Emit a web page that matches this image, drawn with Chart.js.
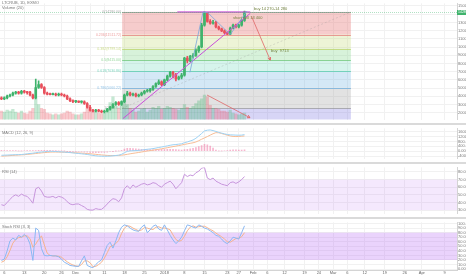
<!DOCTYPE html>
<html>
<head>
<meta charset="utf-8">
<title>LTCRUB 1D</title>
<script src="https://cdn.jsdelivr.net/npm/chart.js@4.4.1/dist/chart.umd.min.js"></script>
<style>
  body { margin: 0; background: #fff; }
  #wrap { position: relative; width: 466px; height: 275px; overflow: hidden; }
  #wrap canvas { position: absolute; left: 0; }
  .sep { position: absolute; left: 0; width: 466px; height: 2px; background: #dadada; }
</style>
</head>
<body>
<div id="wrap">
  <canvas id="main" width="466" height="123" style="top:0"></canvas>
  <div class="sep" style="top:123px"></div>
  <canvas id="macd" width="466" height="37" style="top:125px"></canvas>
  <div class="sep" style="top:162px"></div>
  <canvas id="rsi" width="466" height="53" style="top:164px"></canvas>
  <div class="sep" style="top:217px"></div>
  <canvas id="stoch" width="466" height="56" style="top:219px"></canvas>
</div>
<script>
// ---- data (daily candles, day 0 = first candle) ----
const opens  = [3815,3700,3815,4045,4160,4390,4505,4390,4620,4505,4505,4160,3815,5080,5425,5080,4390,4275,4218,4250,4160,4275,4160,4045,3700,3470,3355,3413,3300,3330,3125,2665,2320,2205,2320,2205,2090,2205,2435,2665,3010,3240,3010,3355,4160,4390,4160,4275,4045,4160,4390,4620,4678,4850,5195,5540,5770,5425,6000,6460,6920,6690,6115,6345,6575,8645,8300,8875,8990,9565,10025,12670,14165,13130,12900,13015,12440,12210,11980,11750,11578,12325,12670,12440,12670,13245];
const highs  = [3930,3930,4160,4275,4505,4620,4620,4735,4735,4620,4620,4275,6115,5885,5540,5195,4505,4390,4390,4390,4390,4390,4275,4160,3815,3585,3528,3470,3470,3470,3240,2895,2435,2435,2435,2320,2320,2550,2780,3125,3355,3355,3470,4275,4620,4505,4390,4390,4275,4505,4735,4850,4965,5310,5655,6000,5885,6115,6575,7035,7035,6805,6460,6805,8760,8875,8990,9220,9795,10140,12900,14280,14223,13360,13245,13130,12555,12325,12095,11865,12440,12785,12785,12785,13360,14395];
const lows   = [3585,3585,3700,3930,4045,4275,4275,4275,4390,4275,4045,3700,3700,4965,4965,4275,4160,4160,4160,4045,4045,4045,3930,3585,3355,3240,3240,3240,3183,3010,2550,2205,2090,2090,2090,1975,1975,2090,2320,2550,2895,2895,2895,3240,4045,4045,4045,3930,3930,4045,4275,4505,4505,4735,5080,5425,5310,5310,5885,6345,6230,5885,6000,6115,6460,8070,8185,8645,8875,9335,9910,12555,13015,12785,12785,12325,12095,11865,11635,11520,11520,12210,12325,12325,12555,13130];
const closes = [3700,3815,4045,4160,4390,4505,4390,4620,4505,4448,4160,3815,5080,5425,5080,4390,4275,4218,4250,4160,4275,4160,4045,3700,3470,3355,3413,3300,3330,3125,2665,2320,2205,2320,2205,2090,2205,2435,2665,3010,3240,3010,3355,4160,4390,4160,4275,4045,4160,4390,4620,4678,4850,5195,5540,5770,5425,6000,6460,6920,6690,6115,6345,6575,8645,8300,8875,8990,9565,10025,12670,14165,13130,12900,13015,12440,12210,11980,11750,11578,12325,12670,12440,12670,13245,14280];
const volume = [9,8,10,9,11,8,7,9,7,6,9,12,23,16,12,11,7,6,5,6,5,6,7,9,8,6,5,5,6,8,12,10,9,8,7,6,7,12,18,24,14,12,15,25,16,12,10,8,9,11,12,8,10,13,12,14,11,12,14,13,12,11,10,12,16,13,12,14,17,20,22,26,24,15,12,12,11,9,9,8,10,7,6,5,6,7];

const macdLine = [-330,-320,-310,-300,-290,-280,-275,-265,-240,-210,-180,-160,-120,-90,-65,-40,-20,0,-10,-20,-35,-50,-70,-90,-110,-135,-160,-185,-210,-235,-265,-300,-340,-370,-395,-405,-410,-405,-395,-370,-345,-320,-250,-120,-10,30,45,55,70,100,130,160,185,215,260,310,350,390,440,490,530,550,580,610,700,760,840,920,1060,1250,1450,1660,1720,1740,1690,1620,1540,1480,1420,1370,1340,1330,1320,1310,1320,1360];
const signalLine = [-400,-385,-370,-355,-340,-325,-310,-295,-280,-260,-235,-210,-185,-160,-135,-110,-90,-70,-65,-65,-70,-75,-80,-88,-100,-112,-125,-140,-155,-170,-185,-205,-225,-250,-275,-300,-320,-340,-352,-355,-350,-340,-320,-290,-250,-210,-170,-135,-100,-60,-20,20,55,90,125,165,200,245,290,335,380,420,465,510,560,605,650,690,760,860,980,1090,1200,1320,1430,1520,1510,1450,1380,1310,1250,1210,1200,1210,1230,1250];
const macdHist = [70,65,60,55,50,45,35,30,40,50,55,50,65,70,70,70,70,70,55,45,35,25,10,-2,-10,-23,-35,-45,-55,-65,-80,-95,-115,-120,-120,-105,-90,-65,-43,-15,5,20,70,170,240,240,215,190,170,160,150,140,130,125,135,145,150,145,150,155,150,130,115,100,140,155,190,230,300,390,470,570,520,420,260,100,30,30,40,60,90,120,120,100,90,110];
const rsi = [37,36,40,44,48,50,48,51,49,48,44,39,58,60,55,48,47,47,48,46,48,47,45,41,38,37,38,38,36,34,31,30,30,32,31,31,34,38,42,45,44,41,46,58,62,58,63,60,62,64,65,63,64,66,65,62,60,64,66,68,64,58,62,66,77,74,76,75,79,81,85,86,72,70,72,68,66,64,63,62,66,67,65,67,70,74];
const stochK = [19,22,40,62,68,64,74,70,76,70,55,19,90,85,45,30,29,30,29,29,27,22,15,12,8,7,6,6,18,29,8,5,3,10,16,20,36,52,59,46,62,80,92,97,95,90,86,84,83,92,97,80,86,94,97,88,85,97,86,74,64,56,62,70,84,97,95,92,90,97,94,90,88,84,80,74,72,66,59,56,62,70,68,66,80,95];
const stochD = [15,18,27,41,57,65,69,70,73,73,67,48,55,65,73,53,35,30,29,29,28,26,21,16,12,9,7,6,10,18,18,14,5,6,10,15,24,36,49,52,56,63,78,90,95,94,90,87,84,86,91,90,88,87,92,93,90,90,89,86,75,65,61,63,72,84,92,95,92,93,94,94,91,87,84,79,75,71,66,60,59,63,67,68,71,80];

// fibonacci retracement drawn from the December low to the January high
const fibLevels = [0, 0.236, 0.382, 0.5, 0.618, 0.786, 1, 1.618];
const fibHigh = 14280, fibLow = 2550;
const fibStart = 42.2, fibEnd = 122.2;

// hand drawings on the price pane (day, price)
const trendX = [42.5, 87], trendY = [1300, 14100];
const topX = [61.5, 87], topY = [14280, 14280];
const patternX = [65.9, 70.5, 72.2, 80, 85.9], patternY = [6920, 14280, 14165, 11520, 14395];
const arrowX = [87.5, 94], arrowY = [13700, 8415];
const volTrendX = [71.9, 86.9], volTrendY = [26, 2];
const notes = ['buy 14 270-14 280', 'short sell 13 400', 'buy  9713'];
const noteX = [88.3, 81, 94.3], noteY = [14625, 13590, 9565];

// axes
const tickDays = [1,8,15,21,26,31,36,43,50,57,64,71,79,83,88,93,99,106,111,116,121,127,134,141,147,155];
const tickNames = ['6','13','20','26','Dec','6','11','18','25','2018','8','15','23','27','Feb','6','12','19','24','Mar','6','12','19','26','Apr','9'];
const priceTicks = [2000,3000,4000,5000,6000,7000,8000,9000,10000,11000,12000,13000,14000,15000];
const macdTicks = [-400,0,400,800,1200,1600];
const rsiTicks = [30,40,50,60,70,80];
const stochTicks = [0,10,20,30,40,50,60,70,80,90,100];

Chart.defaults.font.family = '"Liberation Sans", Arial, sans-serif';
Chart.defaults.font.size = 4;
Chart.defaults.color = '#777';

const upC = '#3fb36c', dnC = '#e8505c';
const isUp = closes.map((c, i) => c >= opens[i]);
const candleColors = isUp.map(u => u ? upC : dnC);
const volColors = isUp.map(u => u ? 'rgba(63,179,108,0.3)' : 'rgba(232,80,92,0.3)');

const fibLines = ['rgba(150,150,150,0.8)', 'rgba(229,115,115,0.7)', 'rgba(188,211,95,0.7)', 'rgba(102,196,111,0.7)', 'rgba(79,201,168,0.7)', 'rgba(102,173,224,0.7)', 'rgba(150,150,150,0.7)', 'rgba(123,115,224,0.7)'];
const fibFills = ['rgba(229,115,115,0.36)', 'rgba(192,216,106,0.28)', 'rgba(111,207,122,0.28)', 'rgba(95,211,181,0.26)', 'rgba(111,179,224,0.3)', 'rgba(158,158,158,0.3)', 'rgba(123,115,224,0.3)'];

const xScale = (labels) => ({
  type: 'linear', min: -0.5, max: 159.3, offset: false,
  afterBuildTicks: s => { s.ticks = tickDays.map(v => ({ value: v })); },
  afterFit: s => { s.height = labels ? 5 : 0; },
  grid: { color: '#f1f1f1', drawTicks: false, offset: false },
  border: { display: labels, color: '#d4d4d4' },
  ticks: { display: labels, autoSkip: false, maxRotation: 0, padding: 0, color: '#666',
           callback: (v, i) => tickNames[i] }
});

const yScale = (min, max, ticks, digits) => ({
  position: 'right', min, max, beginAtZero: false,
  afterBuildTicks: s => { s.ticks = ticks.map(v => ({ value: v })); },
  afterFit: s => { s.width = 9; },
  grid: { color: '#f1f1f1', drawTicks: false },
  border: { color: '#d4d4d4' },
  ticks: { autoSkip: false, padding: 1, callback: v => v.toFixed(digits) }
});

const pts = arr => arr.map((v, i) => ({ x: i, y: v }));

const drawPath = (ctx, chart, xs, ys, color, width, dash, axis) => {
  const sx = chart.scales.x, sy = chart.scales[axis || 'y'];
  ctx.strokeStyle = color; ctx.lineWidth = width; ctx.setLineDash(dash || []);
  ctx.beginPath();
  xs.forEach((v, i) => {
    const px = sx.getPixelForValue(v), py = sy.getPixelForValue(ys[i]);
    if (i === 0) ctx.moveTo(px, py); else ctx.lineTo(px, py);
  });
  ctx.stroke();
  ctx.setLineDash([]);
};

const drawArrowHead = (ctx, chart, xs, ys, color, axis) => {
  const sx = chart.scales.x, sy = chart.scales[axis || 'y'];
  const n = xs.length;
  const x1 = sx.getPixelForValue(xs[n - 1]), y1 = sy.getPixelForValue(ys[n - 1]);
  const x0 = sx.getPixelForValue(xs[n - 2]), y0 = sy.getPixelForValue(ys[n - 2]);
  const ang = Math.atan2(y1 - y0, x1 - x0);
  ctx.strokeStyle = color; ctx.lineWidth = 1;
  ctx.beginPath();
  ctx.moveTo(x1 - 3 * Math.cos(ang - 0.5), y1 - 3 * Math.sin(ang - 0.5));
  ctx.lineTo(x1, y1);
  ctx.lineTo(x1 - 3 * Math.cos(ang + 0.5), y1 - 3 * Math.sin(ang + 0.5));
  ctx.stroke();
};

const mainDecor = {
  id: 'mainDecor',
  beforeDatasetsDraw(chart) {
    const { ctx, chartArea: a, scales: { x, y } } = chart;
    ctx.save();
    ctx.beginPath(); ctx.rect(a.left, a.top, a.width, a.height); ctx.clip();
    const x0 = x.getPixelForValue(fibStart), x1 = x.getPixelForValue(fibEnd);
    const lv = fibLevels.map(l => y.getPixelForValue(fibHigh - l * (fibHigh - fibLow)));
    for (let i = 0; i < fibLevels.length - 1; i++) {
      ctx.fillStyle = fibFills[i];
      ctx.fillRect(x0, lv[i], x1 - x0, lv[i + 1] - lv[i]);
    }
    ctx.font = '3.5px "Liberation Sans"';
    ctx.textAlign = 'right'; ctx.textBaseline = 'middle';
    fibLevels.forEach((l, i) => {
      const yy = Math.round(lv[i]) + 0.5;
      ctx.strokeStyle = fibLines[i]; ctx.lineWidth = 1;
      ctx.beginPath(); ctx.moveTo(x0, yy); ctx.lineTo(x1, yy); ctx.stroke();
      ctx.fillStyle = fibLines[i];
      ctx.fillText(l + '(' + (fibHigh - l * (fibHigh - fibLow)).toFixed(2) + ')', x0 - 1, yy);
    });
    drawPath(ctx, chart, [fibStart, fibEnd], [fibLow, fibHigh], 'rgba(150,150,150,0.5)', 0.6, [2, 2]);
    ctx.restore();
  },
  afterDatasetsDraw(chart) {
    const { ctx, chartArea: a, scales: { y } } = chart;
    ctx.save();
    ctx.beginPath(); ctx.rect(a.left, a.top, a.width, a.height); ctx.clip();
    // last price line
    const lastY = Math.round(y.getPixelForValue(closes[closes.length - 1])) + 0.5;
    ctx.strokeStyle = 'rgba(63,179,108,0.4)'; ctx.lineWidth = 1; ctx.setLineDash([1, 1]);
    ctx.beginPath(); ctx.moveTo(a.left, lastY); ctx.lineTo(a.right, lastY); ctx.stroke();
    ctx.setLineDash([]);
    drawPath(ctx, chart, trendX, trendY, '#c94fd8', 1);
    drawPath(ctx, chart, topX, topY, '#c94fd8', 1);
    drawPath(ctx, chart, patternX, patternY, '#7aa6da', 0.8);
    drawPath(ctx, chart, arrowX, arrowY, '#e06666', 0.8);
    drawArrowHead(ctx, chart, arrowX, arrowY, '#e06666');
    drawPath(ctx, chart, volTrendX, volTrendY, '#e06666', 0.8, null, 'yv');
    drawArrowHead(ctx, chart, volTrendX, volTrendY, '#e06666', 'yv');
    ctx.font = '4px "Liberation Sans"'; ctx.fillStyle = '#72803f';
    ctx.textAlign = 'left'; ctx.textBaseline = 'middle';
    notes.forEach((t, i) => ctx.fillText(t, chart.scales.x.getPixelForValue(noteX[i]), y.getPixelForValue(noteY[i])));
    ctx.restore();
    // header
    ctx.save();
    ctx.font = '4px "Liberation Sans"'; ctx.fillStyle = '#777';
    ctx.textAlign = 'left'; ctx.textBaseline = 'top';
    ctx.fillText('LTCRUB, 1D, EXMO', 2, 1);
    ctx.fillText('Volume (20)', 2, 6);
    // price tag on the axis
    ctx.fillStyle = upC;
    ctx.fillRect(a.right, lastY - 2.5, 9, 5);
    ctx.fillStyle = '#fff'; ctx.font = '3.5px "Liberation Sans"'; ctx.textBaseline = 'middle';
    ctx.fillText(closes[closes.length - 1].toFixed(2), a.right + 1, lastY);
    ctx.restore();
  }
};

const paneDecor = {
  id: 'paneDecor',
  beforeDatasetsDraw(chart, args, opts) {
    if (!opts.band) return;
    const { ctx, chartArea: a, scales: { y } } = chart;
    const t = y.getPixelForValue(opts.band[0]), b = y.getPixelForValue(opts.band[1]);
    ctx.save();
    ctx.fillStyle = opts.band[2];
    ctx.fillRect(a.left, t, a.width, b - t);
    ctx.restore();
  },
  afterDraw(chart, args, opts) {
    if (!opts.label) return;
    const { ctx, chartArea: a } = chart;
    ctx.save();
    ctx.font = '4px "Liberation Sans"'; ctx.fillStyle = '#777';
    ctx.textAlign = 'left'; ctx.textBaseline = 'top';
    ctx.fillText(opts.label, 2, a.top + 2);
    ctx.restore();
  }
};

const baseOptions = (extra) => Object.assign({
  responsive: false, animation: false, devicePixelRatio: 1,
  layout: { padding: 0 },
  elements: { point: { radius: 0 }, line: { borderWidth: 1, tension: 0 } }
}, extra);

new Chart(document.getElementById('main'), {
  type: 'bar',
  data: { datasets: [
    { data: opens.map((o, i) => ({ x: i, y: [o, closes[i]] })), backgroundColor: candleColors,
      barThickness: 2, minBarLength: 1, grouped: false, order: 0 },
    { data: lows.map((l, i) => ({ x: i, y: [l, highs[i]] })), backgroundColor: candleColors,
      barThickness: 1, grouped: false, order: 1 },
    { data: pts(volume), backgroundColor: volColors, barThickness: 2.6, grouped: false,
      yAxisID: 'yv', order: 2 }
  ] },
  options: baseOptions({
    plugins: { legend: { display: false }, tooltip: { enabled: false } },
    scales: {
      x: xScale(false),
      y: yScale(1170, 15315, priceTicks, 2),
      yv: { display: false, min: 0, max: 123 }
    }
  }),
  plugins: [mainDecor]
});

new Chart(document.getElementById('macd'), {
  type: 'bar',
  data: { datasets: [
    { type: 'line', data: pts(macdLine), borderColor: '#9dd2f4', order: 0 },
    { type: 'line', data: pts(signalLine), borderColor: '#f7bd96', order: 1 },
    { data: pts(macdHist), backgroundColor: 'rgba(240,110,160,0.5)', barThickness: 1, grouped: false, order: 2 }
  ] },
  options: baseOptions({
    plugins: { legend: { display: false }, tooltip: { enabled: false },
               paneDecor: { label: 'MACD (12, 26, 9)' } },
    scales: { x: xScale(false), y: yScale(-600, 1867, macdTicks, 4) }
  }),
  plugins: [paneDecor]
});

new Chart(document.getElementById('rsi'), {
  type: 'line',
  data: { datasets: [ { data: pts(rsi), borderColor: '#c795dc' } ] },
  options: baseOptions({
    plugins: { legend: { display: false }, tooltip: { enabled: false },
               paneDecor: { label: 'RSI (14)', band: [70, 30, 'rgba(190,120,245,0.17)'] } },
    scales: { x: xScale(false), y: yScale(25.4, 86, rsiTicks, 4) }
  }),
  plugins: [paneDecor]
});

new Chart(document.getElementById('stoch'), {
  type: 'line',
  data: { datasets: [
    { data: pts(stochK), borderColor: '#8ab8f2' },
    { data: pts(stochD), borderColor: '#f5b38e' }
  ] },
  options: baseOptions({
    plugins: { legend: { display: false }, tooltip: { enabled: false },
               paneDecor: { label: 'Stoch RSI (3, 3)', band: [80, 20, 'rgba(190,120,245,0.33)'] } },
    scales: { x: xScale(true), y: yScale(-2, 102.5, stochTicks, 4) }
  }),
  plugins: [paneDecor]
});
</script>
</body>
</html>
